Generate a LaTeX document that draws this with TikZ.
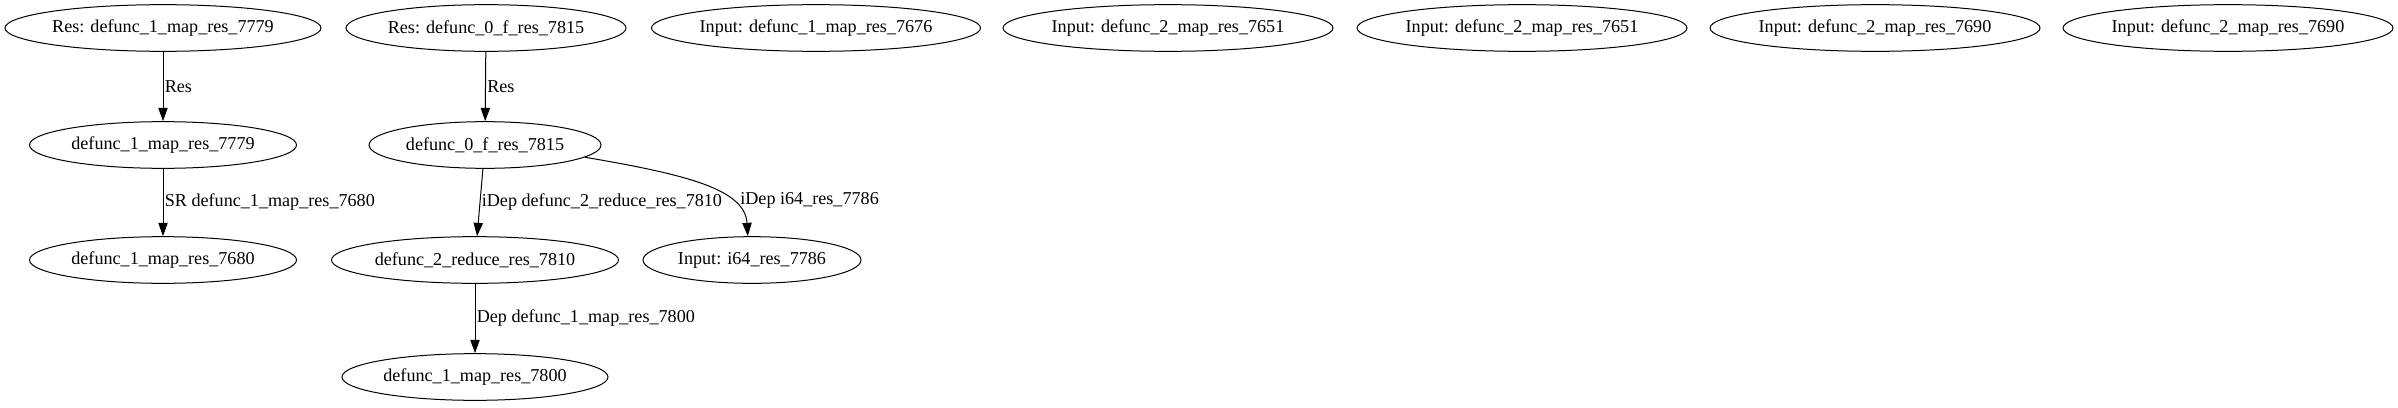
\documentclass[tikz,border=0pt]{standalone}
\usepackage{fontspec}
\setmainfont{Liberation Serif}
\usetikzlibrary{shapes.geometric,arrows.meta}

\tikzset{
	gnode/.style={draw, ellipse, line width=0.75pt, inner xsep=0pt, inner ysep=1pt, minimum width=#1*0.75pt, minimum height=35pt, font=\fontsize{13.6}{16}\selectfont},
	gnode/.default=260,
	gedge/.style={line width=0.75pt, -{Triangle[length=10pt,width=7pt]}},
	glabel/.style={anchor=west, inner sep=1pt, font=\fontsize{13.6}{16}\selectfont}
}

\begin{document}
\begin{tikzpicture}[x=0.75pt,y=-0.75pt]

\useasboundingbox (0,0) rectangle (2398,407);

\node[gnode=316] (res7779) at ( 163, 28) {Res: defunc\_1\_map\_res\_7779};
\node[gnode=280] (res7815) at ( 486, 28) {Res: defunc\_0\_f\_res\_7815};
\node[gnode=329] (in7676)  at ( 816, 28) {Input: defunc\_1\_map\_res\_7676};
\node[gnode=330] (in7651a) at (1168, 28) {Input: defunc\_2\_map\_res\_7651};
\node[gnode=330] (in7651b) at (1522, 28) {Input: defunc\_2\_map\_res\_7651};
\node[gnode=330] (in7690a) at (1875, 28) {Input: defunc\_2\_map\_res\_7690};
\node[gnode=330] (in7690b) at (2228, 28) {Input: defunc\_2\_map\_res\_7690};

\node[gnode=267] (map7779) at ( 163,145) {defunc\_1\_map\_res\_7779};
\node[gnode=232] (f7815)   at ( 485,145) {defunc\_0\_f\_res\_7815};

\node[gnode=267] (map7680) at ( 163,260) {defunc\_1\_map\_res\_7680};
\node[gnode=287] (red7810) at ( 475,260) {defunc\_2\_reduce\_res\_7810};
\node[gnode=218] (in7786)  at ( 752,260) {Input: i64\_res\_7786};

\node[gnode=266] (map7800) at ( 475,377) {defunc\_1\_map\_res\_7800};

\draw[gedge] (res7779) -- (map7779) node[glabel, midway] {Res};
\draw[gedge] (res7815) -- (f7815) node[glabel, midway] {Res};

\draw[gedge] (map7779) -- (map7680) node[glabel, midway] {SR defunc\_1\_map\_res\_7680};
\draw[gedge] (f7815) -- (red7810) node[glabel, midway] {iDep defunc\_2\_reduce\_res\_7810};
\draw[gedge] (f7815.-7) .. controls (690,175) and (745,190) .. (in7786.100)
	node[glabel, pos=0.68, xshift=7pt] {iDep i64\_res\_7786};

\draw[gedge] (red7810) -- (map7800) node[glabel, midway] {Dep defunc\_1\_map\_res\_7800};

\end{tikzpicture}
\end{document}
